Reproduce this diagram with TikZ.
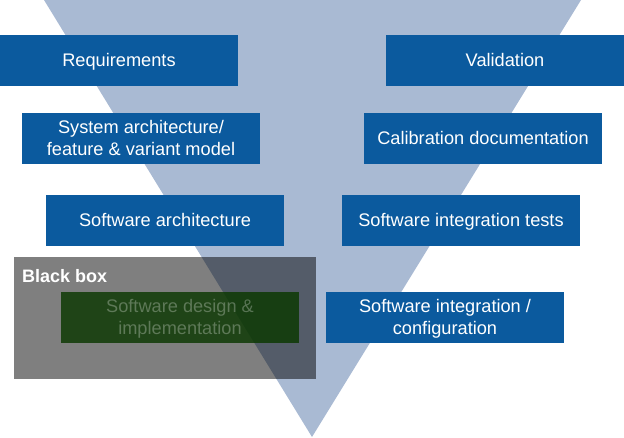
\documentclass[tikz,border=0pt]{standalone}
\usepackage{fontspec}
\setmainfont{Liberation Sans}
\usetikzlibrary{positioning}
\definecolor{vTri}{HTML}{A9BAD3}
\definecolor{vBlue}{HTML}{0B5A9E}
\definecolor{vGreen}{HTML}{0A3800}

\begin{document}
\begin{tikzpicture}[
  x=1pt, y=-1pt,
  font=\fontsize{18.2}{21.8}\selectfont,
  stage/.style={fill=vBlue, text=white, minimum width=238pt, minimum height=51pt,
    inner sep=0pt, align=center, text depth=1pt},
  hidden/.style={fill=vGreen, fill opacity=0.82, text=white, text opacity=0.28,
    minimum width=238pt, minimum height=51pt, inner sep=0pt, align=center,
    text depth=1pt},
  boxlbl/.style={font=\fontsize{18}{21.5}\selectfont\bfseries, text=white,
    inner sep=0pt, anchor=west},
]
\useasboundingbox (0,0) rectangle (624,438);

% the V itself
\fill[vTri] (44,0) -- (581,0) -- (312,437) -- cycle;

% left branch, top to bottom
\node[stage] (req) at (119,60.5) {Requirements};
\node[stage] (sys) at (141,138.5) {System architecture/\\feature \& variant model};
\node[stage] (swa) at (165,220.5) {Software architecture};

% right branch, top to bottom
\node[stage] (val) at (505,60.5) {Validation};
\node[stage] (cal) at (483,138.5) {Calibration documentation};
\node[stage] (sit) at (461,220.5) {Software integration tests};
\node[stage] (sic) at (445,317.5) {Software integration /\\configuration};

% the black box over the bottom of the left branch
\fill[black, fill opacity=0.5] (14,257) rectangle (316,379);
\node[boxlbl] (bbx) at (22,276.5) {Black box};
\node[hidden] (sdi) at (180,317.5) {Software design \&\\implementation};
\end{tikzpicture}
\end{document}
